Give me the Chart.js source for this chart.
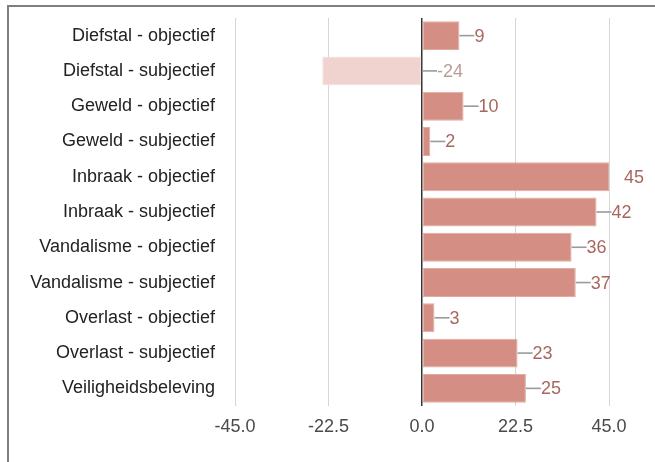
<!DOCTYPE html>
<html>
<head>
<meta charset="utf-8">
<script src="https://cdn.jsdelivr.net/npm/chart.js@4/dist/chart.umd.min.js"></script>
<style>
html,body{margin:0;padding:0;background:#fff;}
#wrap{width:655px;height:462px;position:relative;}
</style>
</head>
<body>
<div id="wrap"><canvas id="c" width="655" height="462"></canvas></div>
<script>
const categories = [
  "Diefstal - objectief",
  "Diefstal - subjectief",
  "Geweld - objectief",
  "Geweld - subjectief",
  "Inbraak - objectief",
  "Inbraak - subjectief",
  "Vandalisme - objectief",
  "Vandalisme - subjectief",
  "Overlast - objectief",
  "Overlast - subjectief",
  "Veiligheidsbeleving"
];
const values = [9, -24, 10, 2, 45, 42, 36, 37, 3, 23, 25];
const xTicks = [-45, -22.5, 0, 22.5, 45];

const FONT = "'Liberation Sans', Arial, sans-serif";
const posFill = "#d48e83", negFill = "#f0d3cf";
const posBorder = "#e2aaa1", negBorder = "#f5e1de";
const posLabel = "#a8675e", negLabel = "#b89d99";

const framePlugin = {
  id: 'frame',
  afterDraw(chart) {
    const ctx = chart.ctx;
    ctx.save();
    ctx.strokeStyle = "#7f7f7f";
    ctx.lineWidth = 2;
    ctx.beginPath();
    ctx.moveTo(8, 462);
    ctx.lineTo(8, 6);
    ctx.lineTo(655, 6);
    ctx.stroke();
    ctx.restore();
  }
};

const labelPlugin = {
  id: 'leaderLabels',
  afterDatasetsDraw(chart) {
    const ctx = chart.ctx;
    const xs = chart.scales.x;
    const meta = chart.getDatasetMeta(0);
    ctx.save();
    ctx.font = "18px " + FONT;
    ctx.textBaseline = "middle";
    ctx.textAlign = "left";
    meta.data.forEach((bar, i) => {
      const v = values[i];
      const start = xs.getPixelForValue(Math.max(0, v));
      const y = bar.y;
      const atEdge = v >= xs.max;
      if (!atEdge) {
        ctx.strokeStyle = "#9a9a9a";
        ctx.lineWidth = 1.6;
        ctx.beginPath();
        ctx.moveTo(start, y);
        ctx.lineTo(start + 15, y);
        ctx.stroke();
      }
      ctx.fillStyle = v < 0 ? negLabel : posLabel;
      ctx.fillText(String(v), start + 15, y + 1);
    });
    ctx.restore();
  }
};

new Chart(document.getElementById('c'), {
  type: 'bar',
  data: {
    labels: categories,
    datasets: [{
      data: values,
      backgroundColor: values.map(v => v < 0 ? negFill : posFill),
      borderColor: values.map(v => v < 0 ? negBorder : posBorder),
      borderWidth: 1,
      borderSkipped: false,
      barPercentage: 0.82,
      categoryPercentage: 1.0
    }]
  },
  options: {
    indexAxis: 'y',
    responsive: false,
    animation: false,
    devicePixelRatio: 1,
    layout: { padding: { left: 0, right: 46, top: 18, bottom: 0 } },
    plugins: { legend: { display: false }, tooltip: { enabled: false } },
    scales: {
      x: {
        min: -45, max: 45,
        afterBuildTicks(scale) { scale.ticks = xTicks.map(v => ({ value: v })); },
        afterFit(scale) { scale.height = 56; scale.paddingLeft = 0; scale.paddingRight = 0; },
        ticks: {
          callback: v => Number(v).toFixed(1),
          font: { family: FONT, size: 18 },
          color: "#4a4a4a",
          padding: 10,
          maxRotation: 0
        },
        grid: {
          drawTicks: false,
          color: ctx => (ctx.tick && ctx.tick.value === 0) ? "#333333" : "#d6d6d6",
          lineWidth: ctx => (ctx.tick && ctx.tick.value === 0) ? 1.5 : 1
        },
        border: { display: false }
      },
      y: {
        afterFit(scale) { scale.width = 235; scale.paddingTop = 0; scale.paddingBottom = 0; },
        ticks: {
          font: { family: FONT, size: 18 },
          color: "#222",
          padding: 20
        },
        grid: { display: false, drawTicks: false },
        border: { display: false }
      }
    }
  },
  plugins: [labelPlugin, framePlugin]
});
</script>
</body>
</html>
